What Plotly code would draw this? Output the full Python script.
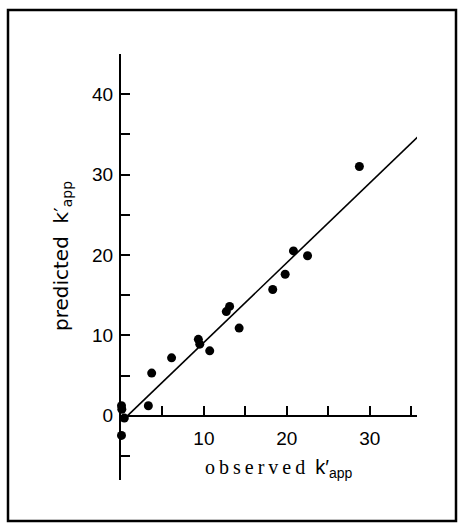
import plotly.graph_objects as go

# ---- data ----
observed = [28.75, 20.8, 22.5, 19.8, 18.3, 13.1, 12.7, 14.25, 9.33, 9.5, 10.7,
            6.1, 3.7, 3.3, 0.06, 0.1, 0.4, 0.06]
predicted = [31.0, 20.5, 19.9, 17.6, 15.7, 13.6, 12.95, 10.9, 9.5, 8.9, 8.07,
             7.2, 5.3, 1.24, 1.24, 0.8, -0.3, -2.45]
fit_x = [0.8, 35.8]
fit_y = [0.0, 34.7]

x_tickvals = [10, 20, 30]
x_ticktext = ["10", "20", "30"]
y_tickvals = [0, 10, 20, 30, 40]
y_ticktext = ["0", "10", "20", "30", "40"]
minor_step = 5

X_RANGE = [0, 35.7]
Y_RANGE = [-8, 45]

W, H = 464, 527
ML, MR, MT, MB = 121, 47, 54, 47
PW, PH = W - ML - MR, H - MT - MB


def px_x(px):
    return (px - ML) / PW


def px_y(py):
    return (H - MB - py) / PH


fig = go.Figure()
fig.add_trace(go.Scatter(x=fit_x, y=fit_y, mode="lines",
                         line=dict(color="black", width=1.6),
                         showlegend=False, cliponaxis=False, hoverinfo="skip"))
fig.add_trace(go.Scatter(x=observed, y=predicted, mode="markers",
                         marker=dict(color="black", size=9),
                         showlegend=False, cliponaxis=False))

tick_font = dict(family="Liberation Sans, Arial, sans-serif", size=19, color="black")
minor = dict(dtick=minor_step, tick0=0, ticks="inside", ticklen=9,
             tickwidth=1.6, tickcolor="black", showgrid=False)

fig.update_xaxes(range=X_RANGE, showgrid=False, zeroline=False,
                 showline=True, linecolor="black", linewidth=2,
                 anchor="free", position=(0 - Y_RANGE[0]) / (Y_RANGE[1] - Y_RANGE[0]),
                 ticks="inside", ticklen=9, tickwidth=1.6, tickcolor="black",
                 tickvals=x_tickvals, ticktext=x_ticktext, tickfont=tick_font,
                 ticklabelstandoff=6, minor=minor)
fig.update_yaxes(range=Y_RANGE, showgrid=False, zeroline=False,
                 showline=True, linecolor="black", linewidth=2,
                 ticks="inside", ticklen=9, tickwidth=1.6, tickcolor="black",
                 tickvals=y_tickvals, ticktext=y_ticktext, tickfont=tick_font,
                 ticklabelstandoff=2, minor=minor)

# outer frame
fig.add_shape(type="rect", xref="paper", yref="paper",
              x0=px_x(8), x1=px_x(456), y0=px_y(521), y1=px_y(10),
              line=dict(color="black", width=2.5), fillcolor="rgba(0,0,0,0)")

ts = "\u2009"
obs_word = ts.join("observed")
fig.add_annotation(xref="paper", yref="paper", x=px_x(279), y=px_y(468),
                   showarrow=False, xanchor="center", yanchor="middle",
                   text=('<span style="font-family:Liberation Serif, Times New Roman, serif">'
                         + obs_word + '\u00a0\u00a0</span>k\u2032<sub>app</sub>'),
                   font=dict(family="Liberation Sans, Arial, sans-serif", size=20, color="black"))
fig.add_annotation(xref="paper", yref="paper", x=px_x(62), y=px_y(256),
                   showarrow=False, textangle=-90, xanchor="center", yanchor="middle",
                   text="predicted\u00a0\u00a0k\u2032<sub>app</sub>",
                   font=dict(family="DejaVu Sans, sans-serif", size=20, color="black"))

fig.update_layout(width=W, height=H, margin=dict(l=ML, r=MR, t=MT, b=MB),
                  paper_bgcolor="white", plot_bgcolor="white", showlegend=False)

fig.write_html("out.html")
